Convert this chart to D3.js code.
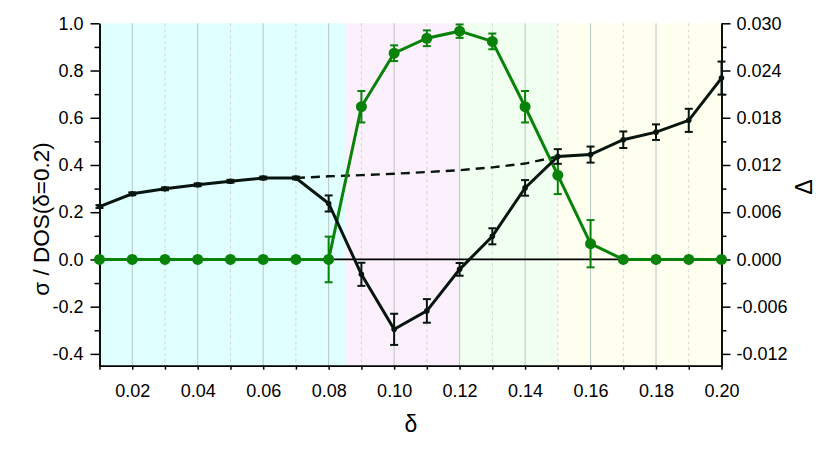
<!DOCTYPE html>
<html>
<head>
<meta charset="utf-8">
<script src="https://cdn.jsdelivr.net/npm/d3@7"></script>
<style>
  body { margin: 0; background: #fff; }
  text { font-family: "Liberation Sans", Arial, sans-serif; }
</style>
</head>
<body>
<div id="chart"></div>
<script>
const width = 830
const height = 458

// data
const delta = [0.01, 0.02, 0.03, 0.04, 0.05, 0.06, 0.07, 0.08, 0.09, 0.10,
               0.11, 0.12, 0.13, 0.14, 0.15, 0.16, 0.17, 0.18, 0.19, 0.20]
const sigma = [0.224, 0.278, 0.299, 0.316, 0.331, 0.345, 0.345, 0.237, -0.063, -0.296,
               -0.218, -0.042, 0.098, 0.303, 0.436, 0.444, 0.507, 0.539, 0.589, 0.768]
const sigmaErr = [0.006, 0.006, 0.006, 0.006, 0.006, 0.006, 0.006, 0.034, 0.049, 0.066,
                  0.050, 0.027, 0.034, 0.033, 0.031, 0.034, 0.035, 0.033, 0.049, 0.070]
const dashDelta = [0.07, 0.08, 0.09, 0.10, 0.11, 0.12, 0.13, 0.14, 0.15]
const dashSigma = [0.345, 0.352, 0.357, 0.363, 0.370, 0.378, 0.390, 0.406, 0.436]
const gap = [0, 0, 0, 0, 0, 0, 0, 0, 0.0194, 0.0262,
             0.0281, 0.0290, 0.0277, 0.0194, 0.0107, 0.0020, 0, 0, 0, 0]
const gapErr = [0, 0, 0, 0, 0, 0, 0, 0.0029, 0.0020, 0.0010,
                0.0010, 0.00085, 0.0010, 0.0020, 0.0024, 0.0030, 0, 0, 0, 0]

const bandEdges = [0.01, 0.085, 0.12, 0.15, 0.20]
const bandColors = ["#e0ffff", "#fdf0fd", "#f0fff0", "#fffff0"]

const leftTicks = [-0.4, -0.2, 0.0, 0.2, 0.4, 0.6, 0.8, 1.0]
const leftMinor = [-0.3, -0.1, 0.1, 0.3, 0.5, 0.7, 0.9]
const rightTicks = [-0.012, -0.006, 0.000, 0.006, 0.012, 0.018, 0.024, 0.030]
const rightMinor = [-0.009, -0.003, 0.003, 0.009, 0.015, 0.021, 0.027]
const xTicks = [0.02, 0.04, 0.06, 0.08, 0.10, 0.12, 0.14, 0.16, 0.18, 0.20]
const xMinor = [0.01, 0.03, 0.05, 0.07, 0.09, 0.11, 0.13, 0.15, 0.17, 0.19]

const plotL = 99.5, plotR = 721.5, plotT = 23.3, plotB = 365.7

const x = d3.scaleLinear().domain([0.01, 0.20]).range([plotL, plotR])
const y = d3.scaleLinear().domain([-0.45, 1.0]).range([plotB, plotT])
const y2 = d3.scaleLinear().domain([-0.0135, 0.030]).range([plotB, plotT])

const svg = d3.select("#chart").append("svg")
    .attr("width", width)
    .attr("height", height)

// background bands
svg.append("g").selectAll("rect")
    .data(bandColors)
    .join("rect")
    .attr("x", (d, i) => x(bandEdges[i]))
    .attr("width", (d, i) => x(bandEdges[i + 1]) - x(bandEdges[i]))
    .attr("y", plotT)
    .attr("height", plotB - plotT)
    .attr("fill", d => d)

// grid
const grid = svg.append("g")
grid.selectAll(".major")
    .data(xTicks.slice(0, -1))
    .join("line")
    .attr("x1", d => x(d)).attr("x2", d => x(d))
    .attr("y1", plotT).attr("y2", plotB)
    .attr("stroke", "#b8c4c4").attr("stroke-width", 1)
grid.selectAll(".minor")
    .data(xMinor.slice(1))
    .join("line")
    .attr("x1", d => x(d)).attr("x2", d => x(d))
    .attr("y1", plotT).attr("y2", plotB)
    .attr("stroke", "#c8cccc").attr("stroke-width", 0.8)
    .attr("stroke-dasharray", "3,3")

// zero line
svg.append("line")
    .attr("x1", plotL).attr("x2", plotR)
    .attr("y1", y(0)).attr("y2", y(0))
    .attr("stroke", "#000").attr("stroke-width", 1.8)

// axes
function styleAxis(g) {
    g.selectAll("path").attr("stroke", "#000").attr("stroke-width", 1.5)
    g.selectAll("line").attr("stroke", "#000").attr("stroke-width", 1.5)
    g.selectAll("text").attr("fill", "#000").style("font-size", "18px")
        .style("font-family", "'Liberation Sans', Arial, sans-serif")
}

svg.append("g")
    .attr("transform", `translate(${plotL},0)`)
    .call(d3.axisLeft(y).tickValues(leftMinor).tickSize(5).tickSizeOuter(0).tickFormat(""))
    .call(styleAxis)
svg.append("g")
    .attr("transform", `translate(${plotL},0)`)
    .call(d3.axisLeft(y).tickValues(leftTicks).tickSize(9).tickSizeOuter(0).tickPadding(7)
        .tickFormat(d => d.toFixed(1)))
    .call(styleAxis)

svg.append("g")
    .attr("transform", `translate(${plotR},0)`)
    .call(d3.axisRight(y2).tickValues(rightMinor).tickSize(5).tickSizeOuter(0).tickFormat(""))
    .call(styleAxis)
svg.append("g")
    .attr("transform", `translate(${plotR},0)`)
    .call(d3.axisRight(y2).tickValues(rightTicks).tickSize(9).tickSizeOuter(0).tickPadding(6)
        .tickFormat(d => d.toFixed(3)))
    .call(styleAxis)

svg.append("g")
    .attr("transform", `translate(0,${plotB})`)
    .call(d3.axisBottom(x).tickValues(xMinor).tickSize(4).tickSizeOuter(0).tickFormat(""))
    .call(styleAxis)
svg.append("g")
    .attr("transform", `translate(0,${plotB})`)
    .call(d3.axisBottom(x).tickValues(xTicks).tickSize(4).tickSizeOuter(0).tickPadding(15)
        .tickFormat(d => d.toFixed(2)))
    .call(styleAxis)

// axis titles
svg.append("text")
    .attr("transform", "translate(41,219) rotate(-90)")
    .attr("text-anchor", "middle")
    .attr("dominant-baseline", "central")
    .style("font-size", "22.5px")
    .text("σ / DOS(δ=0.2)")
svg.append("text")
    .attr("x", 411).attr("y", 432)
    .attr("text-anchor", "middle")
    .style("font-size", "23px")
    .text("δ")
svg.append("text")
    .attr("transform", "translate(804,187) rotate(-90)")
    .attr("text-anchor", "middle")
    .attr("dominant-baseline", "central")
    .style("font-size", "23px")
    .text("Δ")

const green = "#088208"
const dark = "#07150e"

// dashed continuation
svg.append("path")
    .datum(dashDelta.map((d, i) => [d, dashSigma[i]]))
    .attr("d", d3.line().x(d => x(d[0])).y(d => y(d[1])))
    .attr("fill", "none")
    .attr("stroke", dark).attr("stroke-width", 2.4)
    .attr("stroke-dasharray", "9,6")

// gap series (right axis)
const gapData = delta.map((d, i) => ({ d: d, v: gap[i], e: gapErr[i] }))
const gG = svg.append("g")
gG.append("path")
    .datum(gapData)
    .attr("d", d3.line().x(p => x(p.d)).y(p => y2(p.v)))
    .attr("fill", "none").attr("stroke", green).attr("stroke-width", 3)
const gErr = gG.selectAll(".gerr")
    .data(gapData.filter(p => p.e > 0))
    .join("g")
gErr.append("line")
    .attr("x1", p => x(p.d)).attr("x2", p => x(p.d))
    .attr("y1", p => y2(p.v - p.e)).attr("y2", p => y2(p.v + p.e))
    .attr("stroke", green).attr("stroke-width", 2)
gErr.selectAll(".cap")
    .data(p => [[p.d, p.v - p.e], [p.d, p.v + p.e]])
    .join("line")
    .attr("x1", c => x(c[0]) - 4).attr("x2", c => x(c[0]) + 4)
    .attr("y1", c => y2(c[1])).attr("y2", c => y2(c[1]))
    .attr("stroke", green).attr("stroke-width", 2)
gG.selectAll("circle")
    .data(gapData)
    .join("circle")
    .attr("cx", p => x(p.d)).attr("cy", p => y2(p.v))
    .attr("r", 5.5).attr("fill", green)

// sigma series (left axis)
const sData = delta.map((d, i) => ({ d: d, v: sigma[i], e: sigmaErr[i] }))
const sG = svg.append("g")
sG.append("path")
    .datum(sData)
    .attr("d", d3.line().x(p => x(p.d)).y(p => y(p.v)))
    .attr("fill", "none").attr("stroke", dark).attr("stroke-width", 3)
const sErr = sG.selectAll(".serr")
    .data(sData)
    .join("g")
sErr.append("line")
    .attr("x1", p => x(p.d)).attr("x2", p => x(p.d))
    .attr("y1", p => y(p.v - p.e)).attr("y2", p => y(p.v + p.e))
    .attr("stroke", dark).attr("stroke-width", 2)
sErr.selectAll(".cap")
    .data(p => [[p.d, p.v - p.e], [p.d, p.v + p.e]])
    .join("line")
    .attr("x1", c => x(c[0]) - 4).attr("x2", c => x(c[0]) + 4)
    .attr("y1", c => y(c[1])).attr("y2", c => y(c[1]))
    .attr("stroke", dark).attr("stroke-width", 2)
sG.selectAll("circle")
    .data(sData)
    .join("circle")
    .attr("cx", p => x(p.d)).attr("cy", p => y(p.v))
    .attr("r", 2.8).attr("fill", dark)
</script>
</body>
</html>
